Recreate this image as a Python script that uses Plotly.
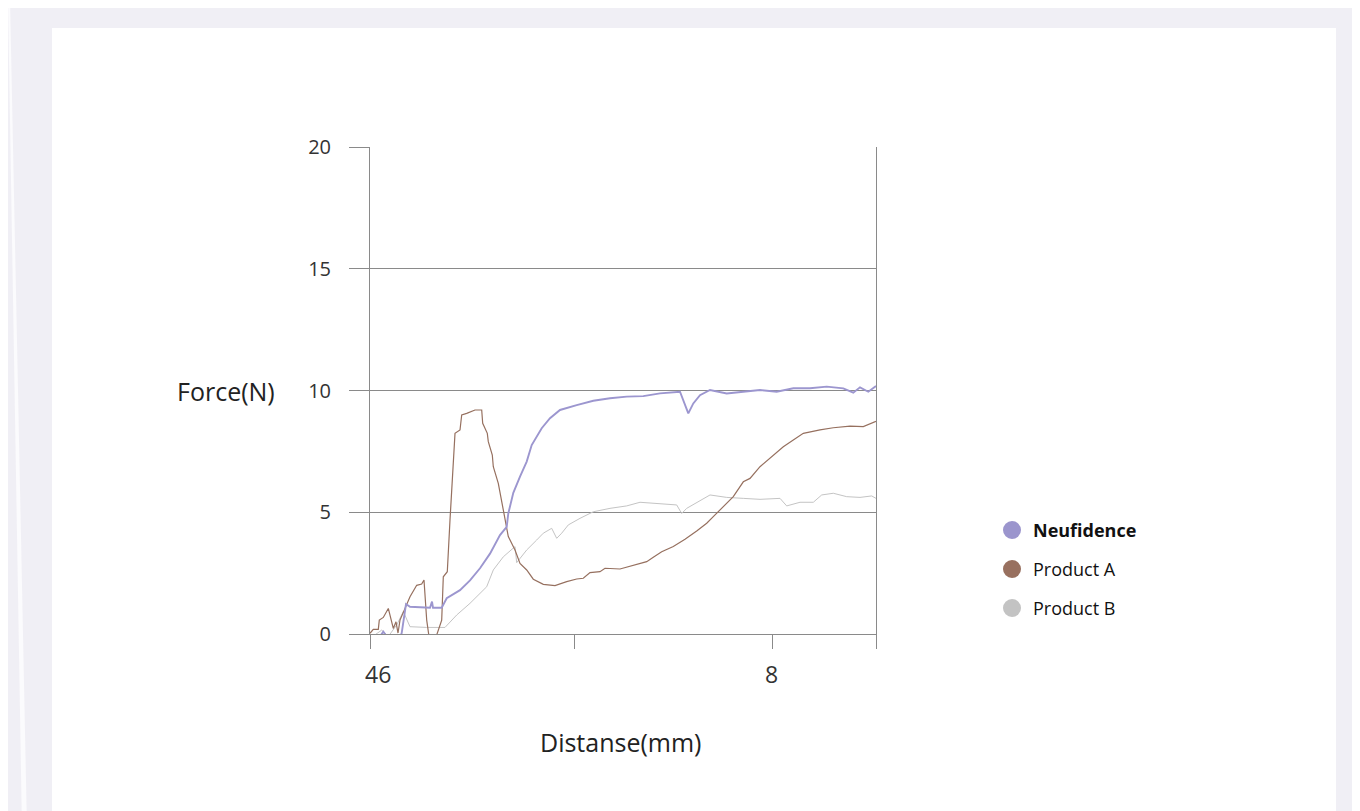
import plotly.graph_objects as go

# ---------------- data ----------------
neu_x = [6.7, 13.3, 20, 28.3, 31.7, 36, 40, 60, 62, 63, 71.7, 76.7, 90, 100, 110, 120, 130,
         136.7, 138.3, 143.3, 150, 156.7, 161.7, 171.7, 180, 190, 206.7, 223.3, 240, 256.7,
         273.3, 290, 310, 318.3, 323.3, 330, 340, 356.7, 373.3, 390, 406.7, 423.3, 440,
         456.7, 473.3, 483.3, 490, 498.3, 506]
neu_y = [-0.3, 0.1, -0.3, -0.3, 0.04, 1.23, 1.12, 1.08, 1.33, 1.08, 1.08, 1.47, 1.8, 2.2, 2.7,
         3.3, 4.06, 4.4, 4.95, 5.8, 6.46, 7.08, 7.76, 8.45, 8.86, 9.2, 9.4, 9.58, 9.68, 9.75,
         9.77, 9.88, 9.95, 9.06, 9.47, 9.81, 10.02, 9.88, 9.95, 10.02, 9.95, 10.09, 10.09,
         10.16, 10.09, 9.91, 10.13, 9.95, 10.18]

pa_x = [0, 3.3, 8.3, 9.3, 13.3, 18.3, 23.3, 26, 28, 30,
        40, 46.7, 51.7, 54, 56.7, 59, 66.7, 71.7, 73.3, 77.3, 80, 82.7, 85, 90, 91.7, 96.7,
        105, 111.7, 112.7, 117.3, 118.3, 122.3, 123.3, 128.3, 133.3, 136.7, 138.3, 145, 150,
        156.7, 163.3, 173.3, 185, 196.7, 206.7, 213.3, 220, 230, 235, 250, 263.3, 276.7,
        283.3, 291.7, 303.3, 315, 326.7, 336.7, 343.3, 353.3, 363.3, 373.3, 380, 390, 403.3,
        413.3, 423.3, 433.3, 450, 463.3, 480, 493.3, 506]
pa_y = [0.03, 0.19, 0.19, 0.57, 0.68, 1.05, 0.23, 0.5, 0.04, 0.57,
        1.53, 2.0, 2.05, 2.22, 0.57, -0.1, -0.04, 0.57, 2.35, 2.56, 4.68, 6.87, 8.24, 8.38,
        9.0, 9.06, 9.2, 9.2, 8.65, 8.24, 7.9, 7.35, 6.87, 6.19, 5.09, 4.4, 4.0, 3.45, 2.9,
        2.63, 2.25, 2.04, 1.99, 2.15, 2.26, 2.29, 2.52, 2.56, 2.7, 2.67, 2.81, 2.97, 3.15,
        3.38, 3.59, 3.89, 4.23, 4.55, 4.82, 5.23, 5.64, 6.25, 6.39, 6.87, 7.35, 7.69, 7.97,
        8.24, 8.38, 8.47, 8.54, 8.52, 8.73]

pb_x = [0, 11.7, 18.3, 26.7, 33.3, 40, 56.7, 75, 86.7, 100, 116.7, 123.3, 133.3, 145, 146.7,
        156.7, 166.7, 173.3, 181.7, 186.7, 191.7, 198.3, 210, 223.3, 240, 256.7, 270, 290,
        306.7, 311.7, 316.7, 340, 356.7, 373.3, 390, 410, 416.7, 430, 443.3, 451.7, 463.3,
        476.7, 490, 501.7, 506]
pb_y = [-0.18, 0.16, -0.1, 0.37, 0.92, 0.3, 0.27, 0.27, 0.78, 1.26, 1.94, 2.63, 3.17, 3.59,
        2.93, 3.45, 3.86, 4.14, 4.34, 3.93, 4.14, 4.48, 4.75, 5.02, 5.16, 5.26, 5.41, 5.34,
        5.3, 4.95, 5.16, 5.71, 5.61, 5.57, 5.53, 5.57, 5.26, 5.41, 5.41, 5.71, 5.78, 5.64,
        5.61, 5.67, 5.57]

series_names = ["Neufidence", "Product A", "Product B"]
series_colors = ["#9c96cf", "#96705f", "#c4c4c4"]
series_widths = [1.9, 1.2, 1.0]

x_tickvals = [0, 204, 402, 506]
x_label_pos = [8, 401]
x_label_text = ["46", "8"]
y_tickvals = [0, 5, 10, 15, 20]

FONT = "Open Sans"
GRID = "#8a8a8a"

# ---------------- figure ----------------
fig = go.Figure()
for xs, ys, name, col, w in [
    (pb_x, pb_y, series_names[2], series_colors[2], series_widths[2]),
    (pa_x, pa_y, series_names[1], series_colors[1], series_widths[1]),
    (neu_x, neu_y, series_names[0], series_colors[0], series_widths[0]),
]:
    fig.add_trace(go.Scatter(x=xs, y=ys, mode="lines", name=name,
                             line=dict(color=col, width=w), showlegend=False))

OFF = 8  # page body margin
L, R, T, B = 370, 876, 147, 634   # page pixel coords of the plot area
W, H = 1360, 811
pw, ph = R - L, B - T


def px(x):
    return (x - L) / pw


def py(y):
    return (B - y) / ph


shapes = [
    dict(type="rect", xref="paper", yref="paper", x0=px(52), x1=px(1336), y0=py(830),
         y1=py(28), fillcolor="white", line=dict(width=0), layer="below"),
    dict(type="path", xref="paper", yref="paper",
         path=f"M {px(8)},{py(0)} L {px(10)},{py(0)} L {px(27)},{py(830)} L {px(22)},{py(830)} Z",
         fillcolor="#fbfbfd", line=dict(width=0), layer="below"),
]

annotations = []
for xv, txt in zip(x_label_pos, x_label_text):
    annotations.append(dict(x=xv, y=py(674), xref="x", yref="paper", text=txt,
                            showarrow=False, font=dict(family=FONT, size=23, color="#333"),
                            xanchor="center", yanchor="middle"))
annotations.append(dict(x=px(226), y=10, xref="paper", yref="y", text="Force(N)",
                        showarrow=False, font=dict(family=FONT, size=25, color="#222"),
                        xanchor="center", yanchor="middle"))
annotations.append(dict(x=px(621), y=py(742), xref="paper", yref="paper", text="Distanse(mm)",
                        showarrow=False, font=dict(family=FONT, size=25, color="#222"),
                        xanchor="center", yanchor="middle"))

# legend (circles + text)
leg_y = [530, 569, 608]
marker_cols = ["#9b95cd", "#98705f", "#c3c3c3"]
for i, name in enumerate(series_names):
    cy = leg_y[i]
    r = 9
    shapes.append(dict(type="circle", xref="paper", yref="paper",
                       x0=px(1012 - r), x1=px(1012 + r), y0=py(cy + r), y1=py(cy - r),
                       fillcolor=marker_cols[i], line=dict(width=0)))
    txt = f"<b>{name}</b>" if i == 0 else name
    annotations.append(dict(x=px(1031), y=py(cy), xref="paper", yref="paper", text=txt,
                            showarrow=False, xanchor="left", yanchor="middle",
                            font=dict(family=FONT, size=18, color="#111")))

fig.update_layout(
    width=W, height=H,
    margin=dict(l=L - OFF, r=W - (R - OFF), t=T - OFF, b=H - (B - OFF), pad=0),
    paper_bgcolor="#f0eff5",
    plot_bgcolor="white",
    font=dict(family=FONT, color="#333"),
    shapes=shapes,
    annotations=annotations,
    showlegend=False,
    xaxis=dict(range=[0, 506], tickvals=x_tickvals, ticktext=["", "", "", ""],
               ticks="outside", ticklen=14, tickcolor=GRID, tickwidth=1,
               showgrid=False, zeroline=False, showline=True, linecolor=GRID, linewidth=1),
    yaxis=dict(range=[0, 20], tickvals=y_tickvals, ticks="outside", ticklen=20,
               tickcolor=GRID, tickwidth=1, ticklabelstandoff=14,
               tickfont=dict(family=FONT, size=20, color="#333"),
               showgrid=True, gridcolor=GRID, gridwidth=1, zeroline=False,
               showline=True, linecolor=GRID, linewidth=1, mirror=True),
)

fig.write_html("out.html")
